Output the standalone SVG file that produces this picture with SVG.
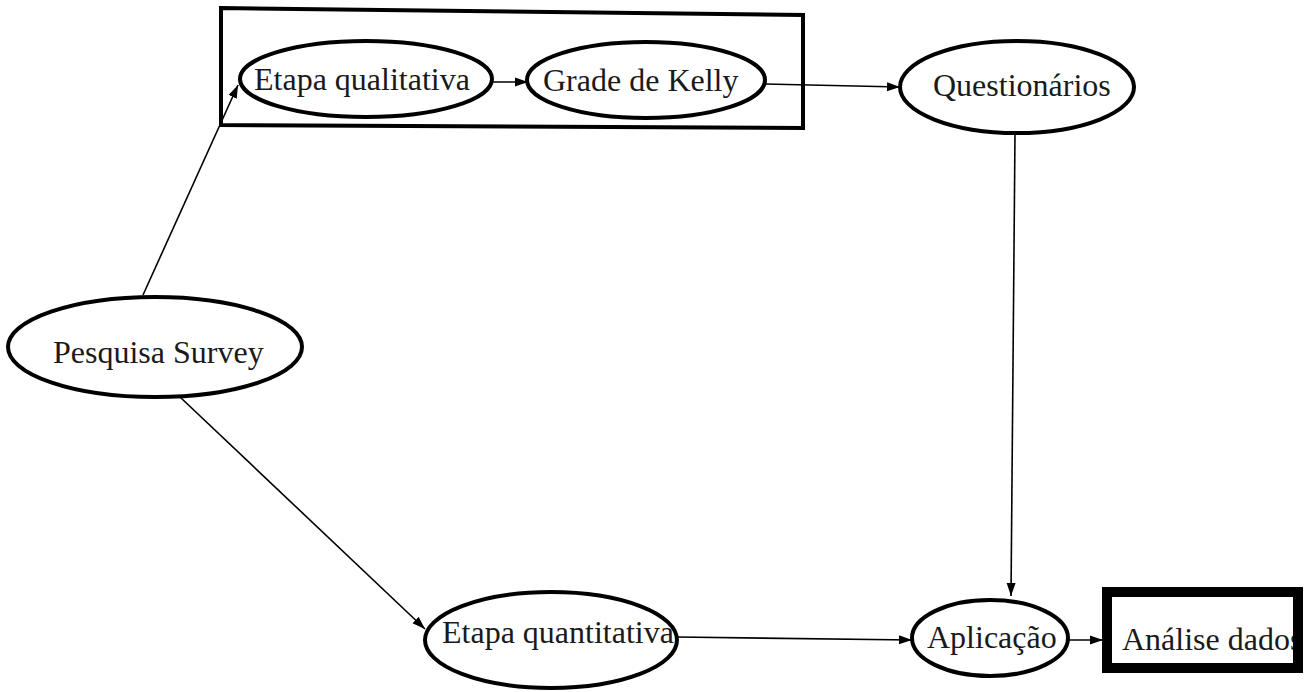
<svg xmlns="http://www.w3.org/2000/svg" width="1309" height="692" viewBox="0 0 1309 692">
<style>
.node ellipse{fill:#fff;stroke:#000;stroke-width:4}
.lbl{font-family:"Liberation Serif","Times New Roman",serif;font-size:32px;fill:#1a1a1a}
.edge{stroke:#000;stroke-width:1.6;fill:none;marker-end:url(#ah)}
</style>
<defs>
<marker id="ah" markerUnits="userSpaceOnUse" markerWidth="14" markerHeight="10" refX="13" refY="5" orient="auto">
<path d="M0,0.5 L13,5 L0,9.5 z" fill="#000"/>
</marker>
</defs>
<rect width="1309" height="692" fill="#fff"/>
<g id="grupo-qualitativo">
<polygon points="221,8 803,15 803,128 221,125" fill="none" stroke="#000" stroke-width="4"/>
</g>
<g id="connectors">
<line class="edge" x1="143" y1="295" x2="238" y2="85"/>
<line class="edge" x1="180" y1="397" x2="425" y2="629"/>
<line class="edge" x1="492" y1="82" x2="528" y2="82"/>
<line class="edge" x1="765" y1="84" x2="900" y2="87"/>
<line class="edge" x1="1015" y1="133" x2="1011" y2="596"/>
<line class="edge" x1="677" y1="637" x2="912" y2="640"/>
<line class="edge" x1="1068" y1="640" x2="1103" y2="640"/>
</g>
<g id="etapa-qualitativa" class="node">
<ellipse cx="366" cy="79" rx="126" ry="38"/>
<text class="lbl" x="254" y="90">Etapa qualitativa</text>
</g>
<g id="grade-kelly" class="node">
<ellipse cx="646" cy="80" rx="119" ry="38"/>
<text class="lbl" x="543" y="91">Grade de Kelly</text>
</g>
<g id="questionarios" class="node">
<ellipse cx="1017" cy="87" rx="117" ry="46"/>
<text class="lbl" x="933" y="96">Questionários</text>
</g>
<g id="pesquisa-survey" class="node">
<ellipse cx="155" cy="347" rx="147" ry="50"/>
<text class="lbl" x="53" y="363">Pesquisa Survey</text>
</g>
<g id="etapa-quantitativa" class="node">
<ellipse cx="551" cy="640" rx="126" ry="48"/>
<text class="lbl" x="442" y="643">Etapa quantitativa</text>
</g>
<g id="aplicacao" class="node">
<ellipse cx="990" cy="638" rx="78" ry="38"/>
<text class="lbl" x="927" y="648">Aplicação</text>
</g>
<g id="analise-dados">
<text class="lbl" x="1122" y="650">Análise dados</text>
<rect x="1107" y="592" width="191" height="76" fill="none" stroke="#000" stroke-width="10"/>
</g>
</svg>
